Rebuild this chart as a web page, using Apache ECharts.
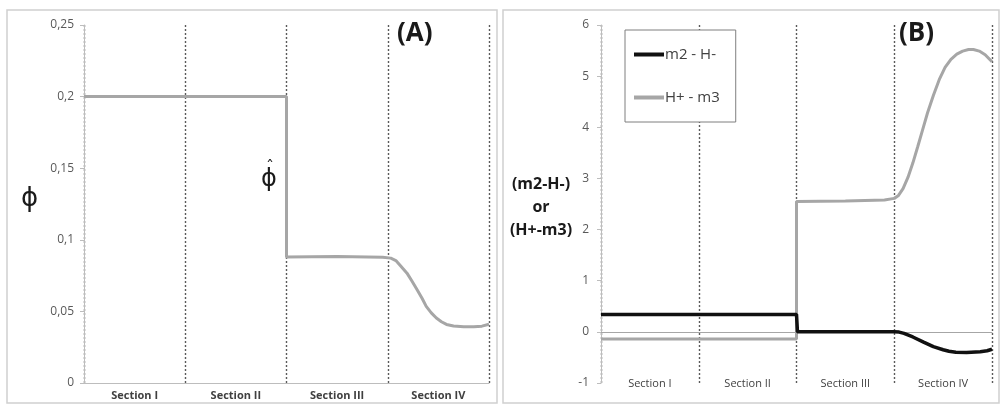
<!DOCTYPE html>
<html><head><meta charset="utf-8">
<script src="https://cdn.jsdelivr.net/npm/echarts@6/dist/echarts.min.js"></script>
<style>html,body{margin:0;padding:0;background:#fff}#c{width:1001px;height:407px}</style>
</head><body><div id="c"></div>
<script>
// ---- data ----
var sections = ['Section I', 'Section II', 'Section III', 'Section IV'];
// Panel A: phi along sections (x in section units)
var phiX = [0, 2, 2, 2.5, 2.95, 3.03, 3.08, 3.13, 3.19, 3.24, 3.29, 3.34, 3.38, 3.43, 3.48, 3.53, 3.58, 3.65, 3.75, 3.85, 3.93, 4.0];
var phiY = [0.2, 0.2, 0.088, 0.0883, 0.0878, 0.0872, 0.0855, 0.0815, 0.0767, 0.071, 0.0651, 0.059, 0.0535, 0.049, 0.0454, 0.0428, 0.0409, 0.0398, 0.0393, 0.0393, 0.0397, 0.041];
var phiTicks = [0, 0.05, 0.1, 0.15, 0.2, 0.25];
// Panel B
var m2X = [0, 2, 2.01, 3, 3.05, 3.1, 3.19, 3.3, 3.4, 3.5, 3.56, 3.63, 3.74, 3.88, 3.95, 4.0];
var m2Y = [0.34, 0.34, 0, 0, -0.005, -0.03, -0.1, -0.2, -0.29, -0.35, -0.38, -0.4, -0.405, -0.39, -0.37, -0.34];
var h3X = [0, 2, 2, 2.5, 2.9, 3, 3.04, 3.09, 3.14, 3.19, 3.24, 3.29, 3.34, 3.40, 3.46, 3.52, 3.58, 3.64, 3.70, 3.76, 3.81, 3.87, 3.93, 4.0];
var h3Y = [-0.14, -0.14, 2.55, 2.56, 2.58, 2.61, 2.66, 2.8, 3.02, 3.3, 3.62, 3.95, 4.28, 4.62, 4.93, 5.17, 5.33, 5.43, 5.49, 5.52, 5.52, 5.49, 5.42, 5.28];
var bTicks = [-1, 0, 1, 2, 3, 4, 5, 6];

function zip(a, b) { return a.map(function (v, i) { return [v, b[i]]; }); }

var chart = echarts.init(document.getElementById('c'), null, {renderer: 'canvas'});
var gridLineGray = '#bdbdbd';
var dash = {color: '#5a5a5a', width: 1.4, type: [2, 2]};
var labelGray = '#595959';

function valX(gi, onZero) {
  return {type: 'value', gridIndex: gi, min: 0, max: 4, interval: 1,
    axisLine: {show: true, onZero: onZero, lineStyle: {color: onZero ? '#a6a6a6' : gridLineGray, width: 1}},
    axisTick: {show: false}, axisLabel: {show: false},
    splitLine: {show: true, lineStyle: dash}};
}
function catX(gi, margin, bold, color) {
  return {type: 'category', gridIndex: gi, data: sections, boundaryGap: true, position: 'bottom',
    axisLine: {show: false, onZero: false}, axisTick: {show: false}, splitLine: {show: false},
    axisLabel: {color: color, fontSize: 11, fontWeight: bold ? 'bold' : 'normal', fontFamily: 'Open Sans', margin: margin}};
}

chart.setOption({
  animation: false,
  backgroundColor: '#fff',
  grid: [
    {left: 84, top: 25, width: 405, height: 358},
    {left: 601, top: 25, width: 391, height: 358}
  ],
  xAxis: [valX(0, false), catX(0, 7, true, '#404040'), valX(1, true), catX(1, -5, false, '#404040')],
  yAxis: [
    {type: 'value', gridIndex: 0, min: phiTicks[0], max: phiTicks[phiTicks.length - 1], interval: 0.05,
      axisLine: {show: true, lineStyle: {color: gridLineGray}},
      axisTick: {show: true, length: 4, lineStyle: {color: gridLineGray}},
      splitLine: {show: false},
      axisLabel: {color: labelGray, fontSize: 12, fontFamily: 'Open Sans', margin: 10,
        formatter: function (v) { return String(Math.round(v * 100) / 100).replace('.', ','); }}},
    {type: 'value', gridIndex: 1, min: bTicks[0], max: bTicks[bTicks.length - 1], interval: 1,
      axisLine: {show: true, lineStyle: {color: gridLineGray}},
      axisTick: {show: true, length: 4, lineStyle: {color: gridLineGray}},
      splitLine: {show: false},
      axisLabel: {color: labelGray, fontSize: 12, fontFamily: 'Open Sans', margin: 12}}
  ],
  legend: {
    left: 625, top: 30, orient: 'vertical',
    data: [{name: 'm2 - H-', icon: 'rect'}, {name: 'H+ - m3', icon: 'rect'}],
    itemWidth: 30, itemHeight: 4, itemGap: 28,
    padding: [17, 16, 17, 9],
    borderColor: '#7f7f7f', borderWidth: 1, backgroundColor: '#fff',
    textStyle: {color: '#404040', fontSize: 15, fontFamily: 'Open Sans', padding: [0, 0, 0, -4]}
  },
  series: [
    {type: 'line', name: 'phi', xAxisIndex: 0, yAxisIndex: 0, data: zip(phiX, phiY), showSymbol: false,
      lineStyle: {color: '#a6a6a6', width: 3}, itemStyle: {color: '#a6a6a6'}},
    {type: 'line', name: 'H+ - m3', xAxisIndex: 2, yAxisIndex: 1, data: zip(h3X, h3Y), showSymbol: false,
      lineStyle: {color: '#a6a6a6', width: 3}, itemStyle: {color: '#a6a6a6'}},
    {type: 'line', name: 'm2 - H-', xAxisIndex: 2, yAxisIndex: 1, data: zip(m2X, m2Y), showSymbol: false,
      lineStyle: {color: '#111', width: 3.5}, itemStyle: {color: '#111'}}
  ],
  graphic: [
    {type: 'rect', shape: {x: 7, y: 10, width: 490, height: 393}, style: {fill: 'none', stroke: '#d0d0d0', lineWidth: 1.5}, z: -1},
    {type: 'rect', shape: {x: 503, y: 10, width: 496, height: 393}, style: {fill: 'none', stroke: '#d0d0d0', lineWidth: 1.5}, z: -1},
    {type: 'text', left: 397, top: 21, style: {text: '(A)', fontSize: 26, fontWeight: 'bold', fill: '#1a1a1a', fontFamily: 'Open Sans'}},
    {type: 'text', left: 899, top: 21, style: {text: '(B)', fontSize: 26, fontWeight: 'bold', fill: '#1a1a1a', fontFamily: 'Open Sans'}},
    {type: 'text', left: 21, top: 186, style: {text: 'ϕ', fontSize: 26, fill: '#1a1a1a', fontFamily: 'DejaVu Sans'}},
    {type: 'text', left: 261, top: 168, style: {text: 'ϕ', fontSize: 24, fill: '#1a1a1a', fontFamily: 'DejaVu Sans'}},
    {type: 'text', left: 266, top: 160, style: {text: 'ˆ', fontSize: 16, fill: '#1a1a1a', fontFamily: 'DejaVu Sans'}},
    {type: 'text', x: 541, y: 207, style: {text: '(m2-H-)\nor\n(H+-m3)', fontSize: 16, fontWeight: 'bold', fill: '#1a1a1a',
      fontFamily: 'Open Sans', align: 'center', verticalAlign: 'middle', lineHeight: 23}}
  ]
});
</script></body></html>
